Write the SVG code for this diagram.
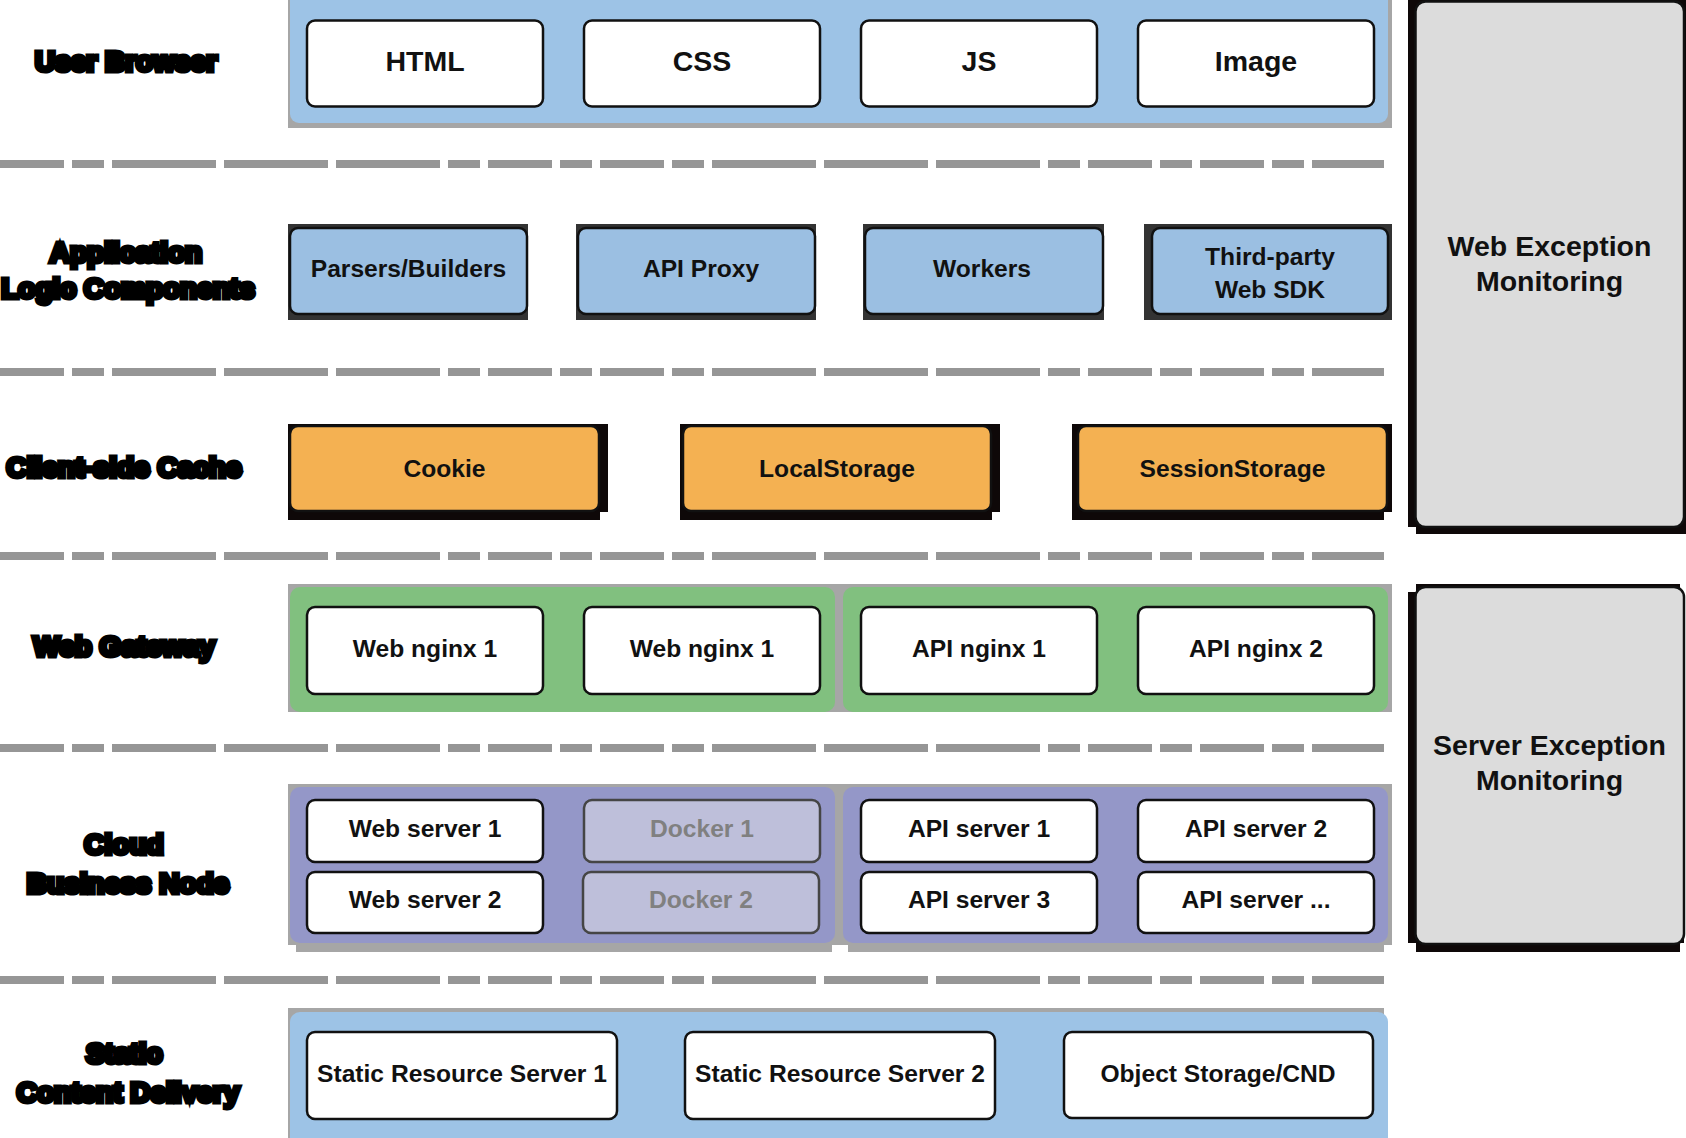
<svg xmlns="http://www.w3.org/2000/svg" width="1686" height="1138" viewBox="0 0 1686 1138">
<defs>
<style>
text{font-family:"Liberation Sans",Arial,Helvetica,sans-serif;font-weight:bold;text-anchor:middle}
.lbl{font-size:28px;fill:#000;stroke:#000;stroke-width:5;stroke-linejoin:miter}
.t1{font-size:28.5px;fill:#111}
.t2{font-size:24.6px;fill:#111}
.tm{font-size:28.5px;fill:#111}
.tg{font-size:24.6px;fill:#808080}
.sep{fill:none;stroke:#969696;stroke-width:8;stroke-dasharray:64 8 32 8 104 8 104 8 104 8 32 8 64 8 32 8 64 8 32 8 104 8 104 8 104 8 32 8 64 8 32 8 64 8 32 8 72 8}
.wbox{fill:#fff;stroke:#111;stroke-width:2.5}
.bbox{fill:#9BBFE2;stroke:#111;stroke-width:2.5}
.obox{fill:#F4B152;stroke:#111;stroke-width:2.5}
.dbox{fill:#BEBFDA;stroke:#454545;stroke-width:2.5}
.pbox{fill:#DCDCDC;stroke:#111;stroke-width:2.5}
.shg{fill:#A6A6A6}
.shd{fill:#333}
.shk{fill:#0E0808}
</style>
</defs>
<rect width="1686" height="1138" fill="#fff"/>

<g id="separators">
<path class="sep" d="M0 164H1384"/>
<path class="sep" d="M0 372H1384"/>
<path class="sep" d="M0 556H1384"/>
<path class="sep" d="M0 748H1384"/>
<path class="sep" d="M0 980H1384"/>
</g>

<g id="connectors"></g>

<g id="labels">
<text class="lbl" x="126" y="71">User Browser</text>
<text class="lbl" x="126" y="262">Application</text>
<text class="lbl" x="128" y="298">Logic Components</text>
<text class="lbl" x="124" y="477">Client-side Cache</text>
<text class="lbl" x="124" y="656">Web Gateway</text>
<text class="lbl" x="124" y="854">Cloud</text>
<text class="lbl" x="128" y="893">Business Node</text>
<text class="lbl" x="124" y="1063">Static</text>
<text class="lbl" x="128" y="1102">Content Delivery</text>
</g>

<g id="band-browser">
<rect class="shg" x="288" y="-10" width="1104" height="138"/>
<rect x="290" y="-10" width="1098" height="133" rx="9" fill="#9DC3E6"/>
</g>
<g id="node-html"><rect class="wbox" x="307" y="20.5" width="236" height="86" rx="8"/><text class="t1" x="425" y="71">HTML</text></g>
<g id="node-css"><rect class="wbox" x="584" y="20.5" width="236" height="86" rx="8"/><text class="t1" x="702" y="71">CSS</text></g>
<g id="node-js"><rect class="wbox" x="861" y="20.5" width="236" height="86" rx="8"/><text class="t1" x="979" y="71">JS</text></g>
<g id="node-image"><rect class="wbox" x="1138" y="20.5" width="236" height="86" rx="8"/><text class="t1" x="1256" y="71">Image</text></g>

<g id="node-parsers"><rect class="shd" x="288" y="224" width="240" height="96"/><rect class="bbox" x="290" y="228" width="237" height="86" rx="8"/><text class="t2" x="408.5" y="277">Parsers/Builders</text></g>
<g id="node-apiproxy"><rect class="shd" x="576" y="224" width="240" height="96"/><rect class="bbox" x="578" y="228" width="237" height="86" rx="8"/><text class="t2" x="701" y="277">API Proxy</text></g>
<g id="node-workers"><rect class="shd" x="863" y="224" width="241" height="96"/><rect class="bbox" x="865" y="228" width="238" height="86" rx="8"/><text class="t2" x="982" y="277">Workers</text></g>
<g id="node-sdk"><rect class="shd" x="1144" y="224" width="248" height="96"/><rect class="bbox" x="1152" y="228" width="236" height="86" rx="8"/><text class="t2" x="1270" y="265">Third-party</text><text class="t2" x="1270" y="298">Web SDK</text></g>

<g id="node-cookie"><rect class="shk" x="288" y="424" width="320" height="88"/><rect class="shk" x="288" y="424" width="312" height="96"/><rect class="obox" x="290" y="426" width="309" height="85" rx="8"/><text class="t2" x="444.5" y="477">Cookie</text></g>
<g id="node-localstorage"><rect class="shk" x="680" y="424" width="320" height="88"/><rect class="shk" x="680" y="424" width="312" height="96"/><rect class="obox" x="683" y="426" width="308" height="85" rx="8"/><text class="t2" x="837" y="477">LocalStorage</text></g>
<g id="node-sessionstorage"><rect class="shk" x="1072" y="424" width="320" height="88"/><rect class="shk" x="1072" y="424" width="312" height="96"/><rect class="obox" x="1078" y="426" width="309" height="85" rx="8"/><text class="t2" x="1232.5" y="477">SessionStorage</text></g>

<g id="band-gateway">
<rect class="shg" x="288" y="584" width="1104" height="128"/>
<rect x="290" y="587" width="545" height="125" rx="10" fill="#81C07F"/>
<rect x="843" y="587" width="545" height="125" rx="10" fill="#81C07F"/>
</g>
<g id="node-webnginx1a"><rect class="wbox" x="307" y="607" width="236" height="87" rx="8"/><text class="t2" x="425" y="657">Web nginx 1</text></g>
<g id="node-webnginx1b"><rect class="wbox" x="584" y="607" width="236" height="87" rx="8"/><text class="t2" x="702" y="657">Web nginx 1</text></g>
<g id="node-apinginx1"><rect class="wbox" x="861" y="607" width="236" height="87" rx="8"/><text class="t2" x="979" y="657">API nginx 1</text></g>
<g id="node-apinginx2"><rect class="wbox" x="1138" y="607" width="236" height="87" rx="8"/><text class="t2" x="1256" y="657">API nginx 2</text></g>

<g id="band-business">
<rect class="shg" x="288" y="784" width="1104" height="161"/>
<rect class="shg" x="296" y="790" width="536" height="162"/>
<rect class="shg" x="848" y="790" width="536" height="162"/>
<rect x="290" y="787" width="545" height="156" rx="10" fill="#9497C8"/>
<rect x="843" y="787" width="545" height="156" rx="10" fill="#9497C8"/>
</g>
<g id="node-webserver1"><rect class="wbox" x="307" y="800" width="236" height="62" rx="8"/><text class="t2" x="425" y="837">Web server 1</text></g>
<g id="node-webserver2"><rect class="wbox" x="307" y="872" width="236" height="61" rx="8"/><text class="t2" x="425" y="908">Web server 2</text></g>
<g id="node-docker1"><rect class="dbox" x="584" y="800" width="236" height="62" rx="8"/><text class="tg" x="702" y="837">Docker 1</text></g>
<g id="node-docker2"><rect class="dbox" x="583" y="872" width="236" height="61" rx="8"/><text class="tg" x="701" y="908">Docker 2</text></g>
<g id="node-apiserver1"><rect class="wbox" x="861" y="800" width="236" height="62" rx="8"/><text class="t2" x="979" y="837">API server 1</text></g>
<g id="node-apiserver3"><rect class="wbox" x="861" y="872" width="236" height="61" rx="8"/><text class="t2" x="979" y="908">API server 3</text></g>
<g id="node-apiserver2"><rect class="wbox" x="1138" y="800" width="236" height="62" rx="8"/><text class="t2" x="1256" y="837">API server 2</text></g>
<g id="node-apiservern"><rect class="wbox" x="1138" y="872" width="236" height="61" rx="8"/><text class="t2" x="1256" y="908">API server ...</text></g>

<g id="band-static">
<rect class="shg" x="288" y="1008" width="1096" height="140"/>
<rect x="290" y="1012" width="1098" height="140" rx="10" fill="#9DC3E6"/>
</g>
<g id="node-static1"><rect class="wbox" x="307" y="1032" width="310" height="87" rx="8"/><text class="t2" x="462" y="1082">Static Resource Server 1</text></g>
<g id="node-static2"><rect class="wbox" x="685" y="1032" width="310" height="87" rx="8"/><text class="t2" x="840" y="1082">Static Resource Server 2</text></g>
<g id="node-objectstorage"><rect class="wbox" x="1064" y="1032" width="309" height="86" rx="8"/><text class="t2" x="1218" y="1082">Object Storage/CND</text></g>

<g id="node-webmonitor">
<rect class="shk" x="1408" y="-10" width="278" height="537"/>
<rect class="shk" x="1416" y="-10" width="270" height="544"/>
<rect class="pbox" x="1415.5" y="1.5" width="268.5" height="525.5" rx="10"/>
<text class="tm" x="1549.5" y="256">Web Exception</text>
<text class="tm" x="1549.5" y="290.5">Monitoring</text>
</g>
<g id="node-servermonitor">
<rect class="shk" x="1408" y="592" width="276" height="351"/>
<rect class="shk" x="1416" y="584" width="264" height="368"/>
<rect class="pbox" x="1415.5" y="587" width="268.5" height="357" rx="10"/>
<text class="tm" x="1549.5" y="755">Server Exception</text>
<text class="tm" x="1549.5" y="790">Monitoring</text>
</g>
</svg>
